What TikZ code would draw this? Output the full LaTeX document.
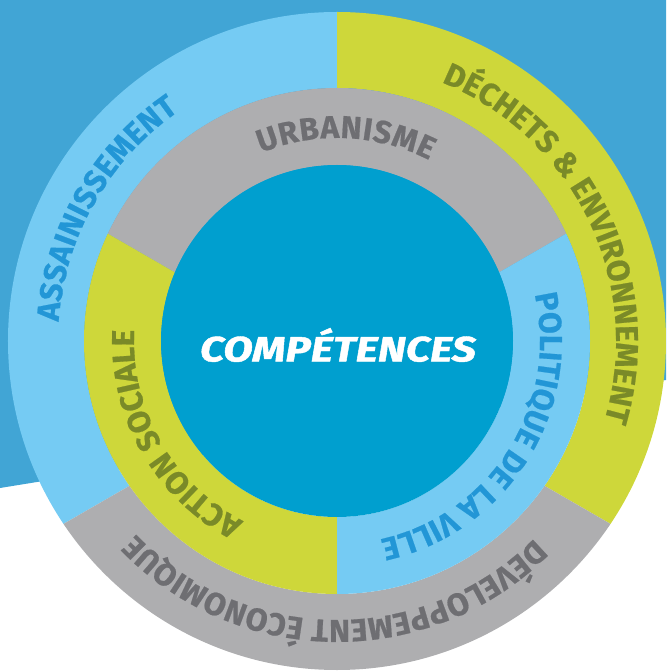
\documentclass[tikz,border=0pt]{standalone}
\usepackage{fontspec}
\setmainfont{Fira Sans}
\newfontfamily\corefont[FakeBold=1.2]{Fira Sans}
\newfontfamily\bandfont[FakeBold=0.6]{Fira Sans}
\usetikzlibrary{decorations.text}

\definecolor{backblue}{HTML}{41A5D5}
\definecolor{skyblue}{HTML}{75CBF3}
\definecolor{limegreen}{HTML}{CED73A}
\definecolor{ringgray}{HTML}{AEAEB0}
\definecolor{coreblue}{HTML}{009FCF}
\definecolor{skytext}{HTML}{2296D6}
\definecolor{limetext}{HTML}{7A8A28}
\definecolor{graytext}{HTML}{6E6E72}

\newcommand\ringfont{\fontsize{27}{27}\bandfont\bfseries}

\begin{document}
\begin{tikzpicture}[x=0.3mm, y=0.3mm,
   ringtext/.style={decorate, decoration={text along path, text align=fit to path}},
   corelabel/.style={text=white, font=\fontsize{30}{30}\corefont\bfseries\itshape}]

\useasboundingbox (-337,-331) rectangle (329,341);
\fill[backblue] (-337,341) -- (329,341) -- (329,-39) -- (-337,-147) -- cycle;

\coordinate (pivot) at (0,-25);

% outer ring
\begin{scope}[even odd rule]
  \clip (0,0) circle[radius=329] (0,0) circle[radius=253];
  \fill[skyblue]   (pivot) -- +(90:800) -- +(150:800) -- +(210:800) -- cycle;
  \fill[limegreen] (pivot) -- +(-30:800) -- +(30:800) -- +(90:800) -- cycle;
  \fill[ringgray]  (pivot) -- +(210:800) -- +(270:800) -- +(330:800) -- cycle;
\end{scope}

% middle ring
\begin{scope}[even odd rule]
  \clip (0,0) circle[radius=253] (0,0) circle[radius=176];
  \fill[ringgray]  (pivot) -- +(30:800) -- +(90:800) -- +(150:800) -- cycle;
  \fill[limegreen] (pivot) -- +(150:800) -- +(210:800) -- +(270:800) -- cycle;
  \fill[skyblue]   (pivot) -- +(270:800) -- +(330:800) -- +(30:800) -- cycle;
\end{scope}

\fill[coreblue] (0,0) circle[radius=176];
\node[corelabel] (core) at (1,-4) {\scalebox{1.22}[1]{COMPÉTENCES}};

\path[ringtext, decoration={text={|\ringfont\color{skytext}|ASSAINISSEMENT}}]
   (176:279) arc[start angle=176, end angle=124.5, radius=279];
\path[ringtext, decoration={text={|\ringfont\color{limetext}|DÉCHETS {\&} ENVIRONNEMENT}}]
   (68:279) arc[start angle=68, end angle=-15, radius=279];
\path[ringtext, decoration={text={|\ringfont\color{graytext}|DÉVELOPPEMENT ÉCONOMIQUE}}]
   (-45:279) arc[start angle=-45, end angle=-135.7, radius=279];
\path[ringtext, decoration={text={|\ringfont\color{graytext}|URBANISME}}]
   (112:203) arc[start angle=112, end angle=63, radius=203];
\path[ringtext, decoration={text={|\ringfont\color{skytext}|POLITIQUE DE LA VILLE}}]
   (13.3:203) arc[start angle=13.3, end angle=-77.4, radius=203];
\path[ringtext, decoration={text={|\ringfont\color{limetext}|ACTION SOCIALE}}]
   (242.5:203) arc[start angle=242.5, end angle=178.6, radius=203];

\end{tikzpicture}
\end{document}
